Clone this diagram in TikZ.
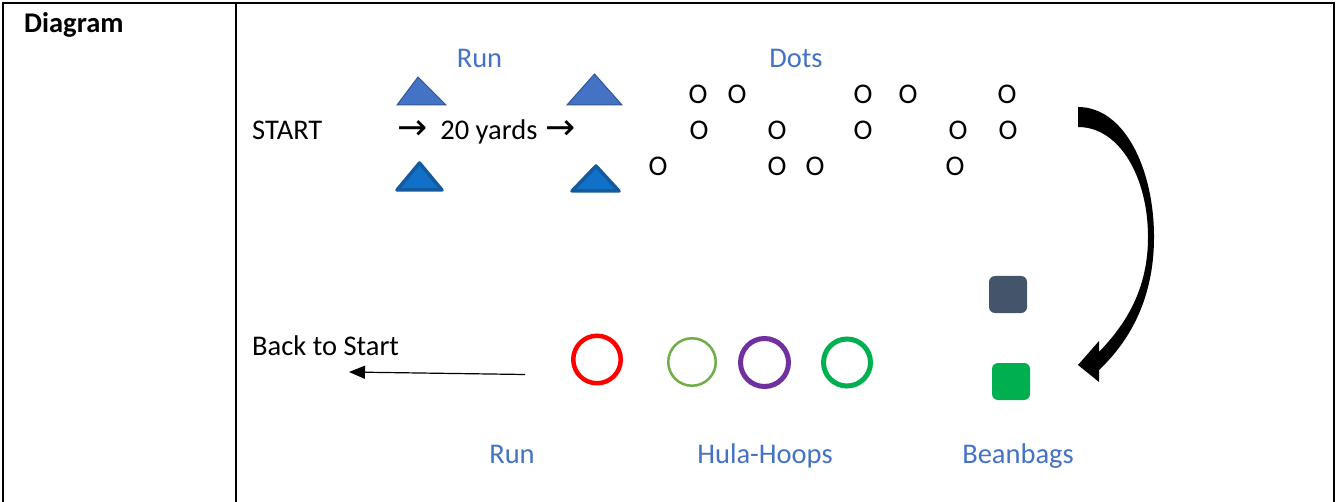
\documentclass[tikz,border=0pt]{standalone}
\usepackage{fontspec}
\setmainfont{Carlito}
\newfontfamily\djv{DejaVu Sans}
\usetikzlibrary{arrows.meta}
\definecolor{lblue}{HTML}{4472C4}
\definecolor{tribord}{HTML}{2F5597}
\definecolor{tribfill}{HTML}{1170C8}
\definecolor{tribbord}{HTML}{135A9E}
\definecolor{slate}{HTML}{44546A}
\definecolor{bgreen}{HTML}{00B050}
\definecolor{lgreen}{HTML}{70AD47}
\definecolor{hpurple}{HTML}{7030A0}
\newcommand{\yarr}{{\djv\fontsize{36pt}{36pt}\selectfont →}}
\tikzset{
  txt/.style={inner sep=0pt, anchor=base, font=\fontsize{28.5pt}{34pt}\selectfont},
  ltxt/.style={txt, anchor=base west},
  blbl/.style={txt, text=lblue},
  dot/.style={txt},
  hoop/.style={circle, draw, inner sep=0pt},
  bag/.style={rounded corners=6pt, inner sep=0pt, minimum width=38pt, minimum height=37pt},
  rule/.style={line width=2pt},
  tritop/.style={fill=lblue, draw=tribord, line width=1pt, line join=miter},
  tribot/.style={fill=tribfill, draw=tribbord, line width=3.5pt, line join=round},
}
\begin{document}
\begin{tikzpicture}[x=1pt,y=-1pt]
\useasboundingbox (0,0) rectangle (1337,502);
% table
\draw[rule] (2,3) -- (1335,3);
\draw[rule] (3,2) -- (3,502);
\draw[rule] (236.2,3) -- (236.2,502);
\draw[rule] (1334,3) -- (1334,502);
\node[ltxt, font=\fontsize{28.5pt}{34pt}\selectfont\bfseries] (diag) at (24,33) {Diagram};
% labels
\node[blbl] (run1) at (479.5,68) {Run};
\node[blbl] (dots) at (796,68) {Dots};
\node[blbl] (run2) at (512,463) {Run};
\node[blbl] (hula) at (765,463) {Hula-Hoops};
\node[blbl] (bean) at (1018,463) {Beanbags};
\node[ltxt] (start) at (252,140) {START};
\node[ltxt] (yards) at (397,140) {\yarr\hspace{13pt}20 yards\hspace{8pt}\yarr};
\node[ltxt] (back) at (252,355) {Back to Start};
% cones
\draw[tritop] (418,77) -- (446,105) -- (397,105) -- cycle;
\draw[tritop] (594.5,74) -- (622,105) -- (567,105) -- cycle;
\draw[tribot] (419.5,163) -- (442,190) -- (397,190) -- cycle;
\draw[tribot] (596,166) -- (619,191) -- (572,191) -- cycle;
% dots
\node[dot] (o1) at (698,104) {O};
\node[dot] (o2) at (737,104) {O};
\node[dot] (o3) at (863,104) {O};
\node[dot] (o4) at (908,104) {O};
\node[dot] (o5) at (1007,104) {O};
\node[dot] (o6) at (699,140) {O};
\node[dot] (o7) at (777,140) {O};
\node[dot] (o8) at (863,140) {O};
\node[dot] (o9) at (958,140) {O};
\node[dot] (o10) at (1008,140) {O};
\node[dot] (o11) at (658,176) {O};
\node[dot] (o12) at (777,176) {O};
\node[dot] (o13) at (815,176) {O};
\node[dot] (o14) at (955,176) {O};
% hoops
\node[hoop, draw=red, line width=4.5pt, minimum size=47.5pt] (h1) at (597,359.5) {};
\node[hoop, draw=lgreen, line width=2.5pt, minimum size=47.5pt] (h2) at (692,362) {};
\node[hoop, draw=hpurple, line width=5pt, minimum size=48pt] (h3) at (764.5,362.5) {};
\node[hoop, draw=bgreen, line width=5pt, minimum size=47pt] (h4) at (847,362.5) {};
% beanbags
\node[bag, fill=slate] (b1) at (1008,294.5) {};
\node[bag, fill=bgreen] (b2) at (1011,381.5) {};
% back arrow
\coordinate (bs) at (525,374.5);
\coordinate (be) at (349,372);
\draw[line width=1.2pt, -{Triangle[length=16pt,width=13pt]}] (bs) -- (be);
% big curved arrow
\fill[black] (1078,107) .. controls (1125,107) and (1154,170) .. (1154,237)
  .. controls (1154,290) and (1136,335) .. (1099,370)
  -- (1099,382) -- (1078,365) -- (1099,341) -- (1099,352)
  .. controls (1127,323) and (1148,288) .. (1148,237)
  .. controls (1148,178) and (1120,127) .. (1078,127) -- cycle;
\end{tikzpicture}
\end{document}
